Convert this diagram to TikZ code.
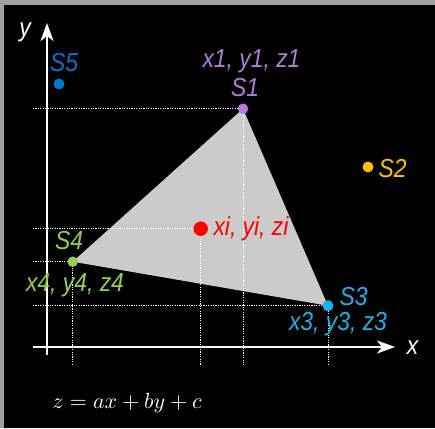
\documentclass[tikz,border=0pt]{standalone}
\usepackage{fontspec}
\newfontfamily\lblfont[FakeStretch=0.88]{Liberation Sans}
\usetikzlibrary{arrows.meta,backgrounds}
\definecolor{cFrame}{RGB}{160,160,160}
\definecolor{cTri}{RGB}{203,203,203}
\definecolor{cS1}{RGB}{176,124,216}
\definecolor{cS2}{RGB}{255,192,0}
\definecolor{cS3}{RGB}{32,176,232}
\definecolor{cS4}{RGB}{146,208,80}
\definecolor{cS5}{RGB}{0,118,204}
\definecolor{cSi}{RGB}{255,0,0}
\tikzset{
  dot/.style={circle, inner sep=0pt, minimum size=10.5pt},
  lbl/.style={font=\lblfont\fontsize{26}{26}\selectfont\itshape, inner sep=0pt, anchor=base},
  guide/.style={draw=white, line width=0.6pt, dash pattern=on 1.2pt off 1.2pt},
  axis/.style={draw=white, line width=1.8pt, -{Stealth[length=18pt,width=13pt,inset=5pt]}}
}
\begin{document}
\begin{tikzpicture}[x=1pt,y=-1pt]
\useasboundingbox (0,0) rectangle (435,428);
% points
\node[dot, fill=cS1] (s1) at (243,108.7) {};
\node[dot, fill=cS2, minimum size=11pt] (s2) at (368,167) {};
\node[dot, fill=cS3, minimum size=11pt] (s3) at (328,305.7) {};
\node[dot, fill=cS4] (s4) at (72.7,261.7) {};
\node[dot, fill=cS5, minimum size=11pt] (s5) at (59,84) {};
\node[dot, fill=cSi, minimum size=14.5pt] (si) at (200.7,228.7) {};
\coordinate (gl) at (33,0);
\coordinate (gb) at (0,365);
\coordinate (xo) at (33,347);
\coordinate (xe) at (395,347);
\coordinate (yo) at (47,355);
\coordinate (ye) at (47,23);
\begin{pgfonlayer}{background}
\fill[cFrame] (0,0) rectangle (435,428);
\fill[black] (3.5,5) rectangle (435,428);
\fill[cTri] (s1.center) -- (s3.center) -- (s4.center) -- cycle;
\foreach \p in {s1,si,s4,s3}{
  \draw[guide] (\p -| gl) -- (\p.center) -- (\p |- gb);
}
\draw[axis] (xo) -- (xe);
\draw[axis] (yo) -- (ye);
\end{pgfonlayer}
% labels
\node[lbl, text=cS1] (l1) at (245,96.7) {S1};
\node[lbl, text=cS1] (c1) at (251.5,67.3) {x1, y1, z1};
\node[lbl, text=cS2] (l2) at (392.5,177) {S2};
\node[lbl, text=cS3] (l3) at (353.5,305) {S3};
\node[lbl, text=cS3] (c3) at (338,330) {x3, y3, z3};
\node[lbl, text=cS4] (l4) at (69,249) {S4};
\node[lbl, text=cS4] (c4) at (75,291) {x4, y4, z4};
\node[lbl, text=cS5] (l5) at (64,71) {S5};
\node[lbl, text=cSi] (ci) at (251,235) {xi, yi, zi};
\node[lbl, text=white] (ly) at (25,37) {y};
\node[lbl, text=white] (lx) at (412.5,354) {x};
\node[anchor=base, inner sep=0pt, text=white] (eq) at (127,408) {\fontsize{10}{12}\selectfont\scalebox{2.2}{$z = ax + by + c$}};
\end{tikzpicture}
\end{document}
